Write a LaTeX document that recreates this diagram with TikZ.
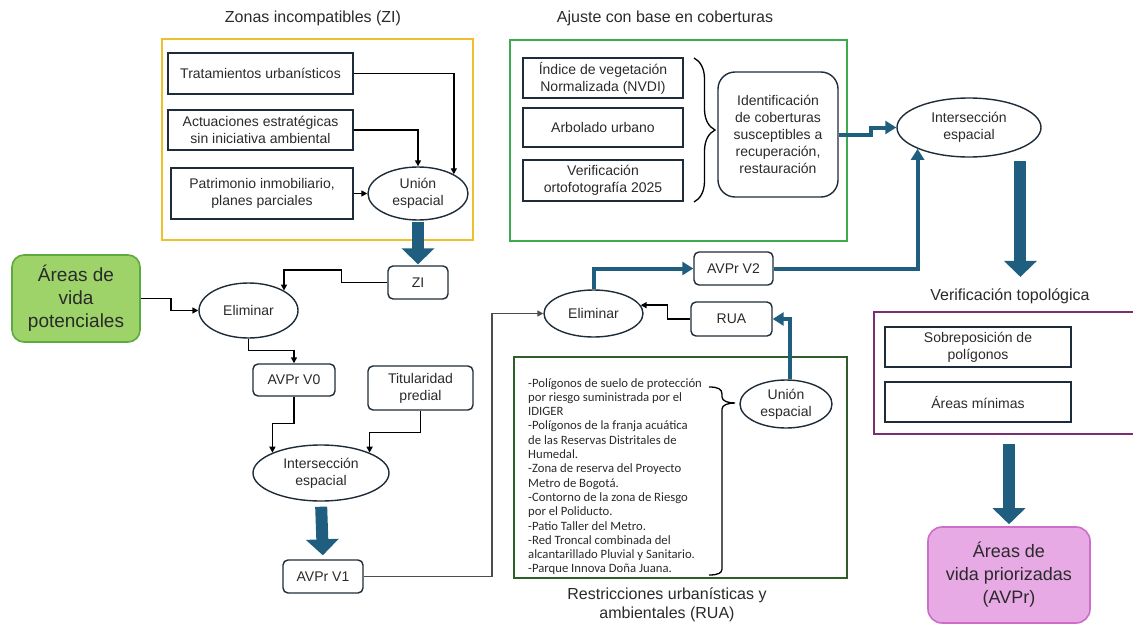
\documentclass[tikz,border=0pt]{standalone}
\usepackage{fontspec}
\setmainfont{Liberation Sans}
\newfontfamily\listfont{Carlito}
\usetikzlibrary{arrows.meta,shapes.geometric,decorations.pathreplacing,calc,positioning}
\definecolor{navy}{HTML}{1E2B38}
\definecolor{flecha}{HTML}{1F5E7E}
\definecolor{amarillo}{HTML}{EEC12C}
\definecolor{verde}{HTML}{3DAA50}
\definecolor{verdeosc}{HTML}{2F5E2A}
\definecolor{morado}{HTML}{7A2F70}
\definecolor{verdeclaro}{HTML}{9ED36A}
\definecolor{verdeborde}{HTML}{5CAB3E}
\definecolor{rosa}{HTML}{E8AAE4}
\definecolor{rosaborde}{HTML}{CC6DC8}
\definecolor{texto}{HTML}{2A2A2A}
\definecolor{gris}{HTML}{4D4D4D}

\begin{document}
\begin{tikzpicture}[x=1pt,y=-1pt,
  every node/.style={text=texto,font=\fontsize{14}{17}\selectfont},
  caja/.style={rectangle,draw=navy,line width=1.4pt,align=center,inner sep=2pt},
  cajar/.style={caja,rounded corners=5pt},
  ovalo/.style={ellipse,draw=navy,line width=1.4pt,align=center,inner sep=0pt},
  marco/.style={rectangle,line width=1.5pt,inner sep=0pt},
  titulo/.style={font=\fontsize{16}{19}\selectfont,align=center},
  flechita/.style={draw=black,line width=1.4pt,-{Triangle[length=6pt,width=6pt]}},
  flechaazul/.style={draw=flecha,line width=4pt,-{Triangle[length=11pt,width=13pt]}},
  flechagrande/.style={draw=flecha,line width=12pt,-{Triangle[length=16pt,width=32pt]}}]
\useasboundingbox (0,0) rectangle (1133,624);

\node[titulo] (tzi) at (313,18) {Zonas incompatibles (ZI)};
\node[titulo] (tcob) at (665,18) {Ajuste con base en coberturas};
\node[titulo] (tver) at (1010,296) {Verificación topológica};
\node[titulo] (trua) at (667,604.5) {Restricciones urbanísticas y\\ambientales (RUA)};

\node[marco,draw=amarillo,minimum width=311pt,minimum height=201pt] (marcozi) at (317.5,139.5) {};
\node[marco,draw=verde,minimum width=337pt,minimum height=201pt] (marcocob) at (678.5,140.5) {};
\node[marco,draw=verdeosc,minimum width=333pt,minimum height=221pt] (marcorua) at (680.5,467.5) {};
\node[marco,draw=morado,minimum width=268pt,minimum height=122pt] (marcover) at (1008,373) {};

\node[caja,minimum width=185pt,minimum height=41pt] (trat) at (260.5,73.5) {Tratamientos urbanísticos};
\node[caja,minimum width=185pt,minimum height=40pt] (actu) at (260.5,130) {Actuaciones estratégicas\\sin iniciativa ambiental};
\node[caja,minimum width=182pt,minimum height=51pt] (patr) at (262,193.5) {Patrimonio inmobiliario,\\planes parciales};
\node[ovalo,minimum width=100pt,minimum height=53pt] (union1) at (418,193.5) {Unión\\espacial};

\node[cajar,minimum width=60pt,minimum height=33pt] (zi) at (418,282.5) {ZI};
\node[caja,rounded corners=12pt,draw=verdeborde,fill=verdeclaro,line width=1.6pt,minimum width=128pt,minimum height=87pt,font=\fontsize{19}{23}\selectfont] (avp) at (76,298.5) {Áreas de\\vida\\potenciales};
\node[ovalo,minimum width=99pt,minimum height=55pt] (elim1) at (248.5,310.5) {Eliminar};
\node[cajar,minimum width=82pt,minimum height=32pt] (avpr0) at (294,380) {AVPr V0};
\node[cajar,minimum width=105pt,minimum height=44pt] (titu) at (420.5,388) {Titularidad\\predial};
\node[ovalo,minimum width=136pt,minimum height=56pt] (inter1) at (321,473) {Intersección\\espacial};
\node[cajar,minimum width=80pt,minimum height=33pt] (avpr1) at (323,576.5) {AVPr V1};

\node[ovalo,minimum width=99pt,minimum height=47pt] (elim2) at (593.5,313.5) {Eliminar};
\node[cajar,minimum width=79pt,minimum height=33pt] (avpr2) at (733.5,268.5) {AVPr V2};
\node[cajar,minimum width=81pt,minimum height=34pt] (rua) at (731.5,319) {RUA};
\node[ovalo,minimum width=92pt,minimum height=48pt] (union2) at (786,404) {Unión\\espacial};
\node[anchor=north west,align=left,inner sep=0pt,font=\listfont\fontsize{12.7}{14.3}\selectfont] (lista) at (528,378) {-Polígonos de suelo de protección\\por riesgo suministrada por el\\IDIGER\\-Polígonos de la franja acuática\\de las Reservas Distritales de\\Humedal.\\-Zona de reserva del Proyecto\\Metro de Bogotá.\\-Contorno de la zona de Riesgo\\por el Poliducto.\\-Patio Taller del Metro.\\-Red Troncal combinada del\\alcantarillado Pluvial y Sanitario.\\-Parque Innova Doña Juana.};
\draw[line width=1.3pt] (709,387) .. controls (718,387) and (722,389) .. (722,394) -- (722,397) .. controls (722,401) and (728,403) .. (735,403) .. controls (728,403) and (722,405) .. (722,409) -- (722,569) .. controls (722,573) and (718,575) .. (709,575);

\node[caja,minimum width=160pt,minimum height=40pt] (indice) at (603,78) {Índice de vegetación\\Normalizada (NVDI)};
\node[caja,minimum width=160pt,minimum height=39pt] (arbol) at (603,127.5) {Arbolado urbano};
\node[caja,minimum width=160pt,minimum height=41pt] (verif) at (603,180.5) {Verificación\\ortofotografía 2025};
\draw[line width=1.3pt,decorate,decoration={brace,amplitude=21pt}] (694,58) -- (694,202);
\node[caja,rounded corners=17pt,minimum width=120pt,minimum height=125pt] (ident) at (778,134.5) {Identificación\\de coberturas\\susceptibles a\\recuperación,\\restauración};
\node[ovalo,minimum width=144pt,minimum height=59pt] (inter2) at (969,127.5) {Intersección\\espacial};

\node[caja,minimum width=186pt,minimum height=40pt] (sobre) at (978,347) {Sobreposición de\\polígonos};
\node[caja,minimum width=186pt,minimum height=40pt] (amin) at (978,402) {Áreas mínimas};
\node[caja,rounded corners=14pt,draw=rosaborde,fill=rosa,line width=1.6pt,minimum width=162pt,minimum height=96pt,font=\fontsize{18}{23}\selectfont] (avpr) at (1009,575) {Áreas de\\vida priorizadas\\(AVPr)};

\draw[flechita] (trat.east) -| (union1.north east);
\draw[flechita] (actu.east) -| (union1.north);
\draw[flechita] (patr.east) -- (union1.west);
\draw[flechagrande,shorten <=1pt,shorten >=1pt] (union1.south) -- (zi.north);
\draw[flechita] (zi.west) -- ++(-46,0) -- ++(0,-12.5) -| (elim1.north east);
\draw[flechita] (avp.east) -- ++(30,0) |- (elim1.west);
\draw[flechita] (elim1.south) -- ++(0,12) -| (avpr0.north);
\draw[flechita] (avpr0.south) -- ++(0,27) -| (inter1.north west);
\draw[flechita] (titu.south) -- ++(0,22) -| (inter1.north east);
\draw[flechagrande,shorten <=5pt,shorten >=4pt] (inter1.south) -- (avpr1.north);
\draw[flechita,draw=gris,line width=1.8pt] (avpr1.east) -- ++(128,0) |- (elim2.west);
\draw[flechaazul] (elim2.north) |- (avpr2.west);
\draw[flechita] (rua.west) -- ++(-23,0) |- (elim2.10);
\draw[flechaazul] (union2.80) |- (rua.east);
\draw[flechaazul] (avpr2.east) -| (inter2.south west);
\draw[flechaazul] (ident.east) -- ++(32,0) |- (inter2.west);
\draw[flechagrande,shorten <=12pt,shorten >=8pt] (inter2.south east) -- (inter2.south east |- tver.north);
\draw[flechagrande,shorten <=9pt,shorten >=2pt] (avpr.north |- marcover.south) -- (avpr.north);
\end{tikzpicture}
\end{document}
